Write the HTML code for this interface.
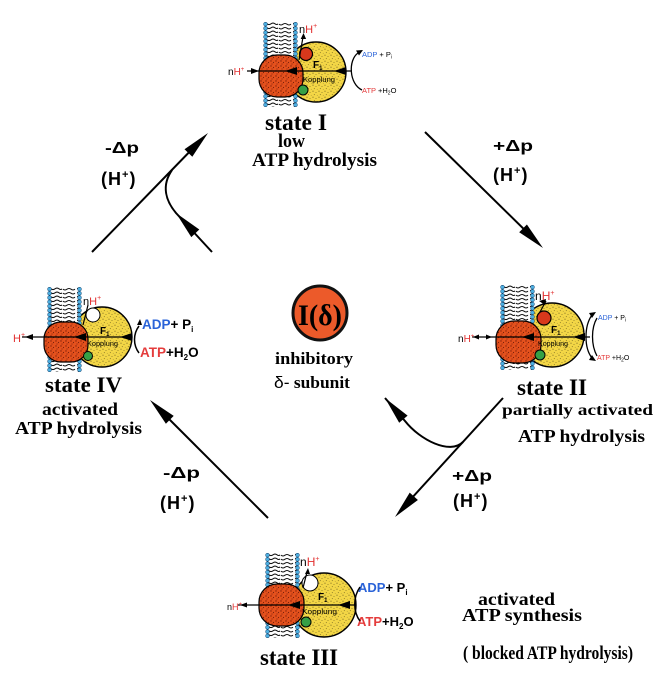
<!DOCTYPE html>
<html><head><meta charset="utf-8">
<style>
html,body{margin:0;padding:0;background:#fff;}
svg{display:block;}
.t{font-family:"Liberation Serif",serif;font-weight:bold;fill:#000;}
.s{font-family:"Liberation Sans",sans-serif;font-weight:bold;fill:#000;}
.n{font-family:"Liberation Sans",sans-serif;fill:#000;}
</style></head><body>
<svg width="657" height="681" viewBox="0 0 657 681" xmlns="http://www.w3.org/2000/svg">
<defs>
 <pattern id="tails" width="30" height="4" patternUnits="userSpaceOnUse">
  <rect width="30" height="4" fill="#fff"/>
  <path d="M0,1.8 q2,-1.5 4,0 t4,0 t4,0 t3,0 M16,2.2 q2,1.5 4,0 t4,0 t4,0" stroke="#111" stroke-width="1" fill="none"/>
 </pattern>
 <pattern id="heads" width="5" height="4.25" patternUnits="userSpaceOnUse">
  <circle cx="2.5" cy="2.1" r="1.9" fill="#4db0e2" stroke="#0b3a66" stroke-width="0.5"/>
 </pattern>
 <pattern id="spk" width="6" height="6" patternUnits="userSpaceOnUse">
  <circle cx="1" cy="1.2" r="0.55" fill="#000" opacity="0.55"/>
  <circle cx="4" cy="2.5" r="0.45" fill="#000" opacity="0.5"/>
  <circle cx="2.3" cy="4.6" r="0.5" fill="#000" opacity="0.5"/>
  <circle cx="5.2" cy="5.3" r="0.4" fill="#000" opacity="0.4"/>
 </pattern>
 <pattern id="spk2" width="5" height="5" patternUnits="userSpaceOnUse">
  <circle cx="1" cy="1" r="0.7" fill="#400" opacity="0.6"/>
  <circle cx="3.5" cy="2.5" r="0.6" fill="#300" opacity="0.6"/>
  <circle cx="2" cy="4" r="0.6" fill="#400" opacity="0.5"/>
 </pattern>
 <g id="mem">
  <rect x="3" y="0" width="29" height="85" fill="url(#tails)"/>
  <rect x="0" y="0" width="5" height="85" fill="url(#heads)"/>
  <rect x="30" y="0" width="5" height="85" fill="url(#heads)"/>
 </g>
</defs>

<!-- ===== Big arrows ===== -->
<g stroke="#000" stroke-width="2" fill="none">
 <path d="M92,252 L200,141"/>
 <path d="M212,252 L176,213 C166,201 161,186 172,170"/>
 <path d="M425,132 L537,242"/>
 <path d="M503,398 L400,511"/>
 <path d="M385,398 L405,421 C420,440 450,455 463,442"/>
 <path d="M268,518 L155,405"/>
</g>
<g fill="#000">
 <polygon points="208,133 192.3,156.8 184.5,149.2"/>
 <polygon points="176,213 199.3,229.5 191.3,237.1"/>
 <polygon points="543,248 519.2,232.3 526.9,224.5"/>
 <polygon points="395,517 417.9,500 409.7,492.6"/>
 <polygon points="385,398 407.6,415.6 399.2,422.8"/>
 <polygon points="150,400 173.7,415.9 165.9,423.7"/>
</g>

<!-- Δp labels -->
<text class="s" x="105" y="153" font-size="16" textLength="34" lengthAdjust="spacingAndGlyphs">-Δp</text>
<text class="s" x="101" y="185" font-size="18" letter-spacing="1">(H<tspan font-size="11" dy="-7">+</tspan><tspan dy="7">)</tspan></text>
<text class="s" x="493" y="151" font-size="16" textLength="40" lengthAdjust="spacingAndGlyphs">+Δp</text>
<text class="s" x="493" y="181" font-size="18" letter-spacing="1">(H<tspan font-size="11" dy="-7">+</tspan><tspan dy="7">)</tspan></text>
<text class="s" x="452" y="481" font-size="16" textLength="40" lengthAdjust="spacingAndGlyphs">+Δp</text>
<text class="s" x="453" y="507" font-size="18" letter-spacing="1">(H<tspan font-size="11" dy="-7">+</tspan><tspan dy="7">)</tspan></text>
<text class="s" x="163" y="478" font-size="16" textLength="37" lengthAdjust="spacingAndGlyphs">-Δp</text>
<text class="s" x="160" y="509" font-size="18" letter-spacing="1">(H<tspan font-size="11" dy="-7">+</tspan><tspan dy="7">)</tspan></text>

<!-- ===== Center ===== -->
<circle cx="320" cy="313" r="27" fill="#ec5a2a" stroke="#111" stroke-width="3"/>
<text class="t" x="320" y="325" font-size="30" text-anchor="middle" textLength="44" lengthAdjust="spacingAndGlyphs">I(δ)</text>
<text class="t" x="275" y="364" font-size="17" textLength="78" lengthAdjust="spacingAndGlyphs">inhibitory</text>
<text class="t" x="274" y="388" font-size="17" textLength="76" lengthAdjust="spacingAndGlyphs"><tspan font-family="Liberation Sans" font-weight="normal">δ-</tspan> subunit</text>

<!-- ===== State I ===== -->
<circle cx="316" cy="72" r="30" fill="#f3d646" stroke="#000" stroke-width="1.4"/>
<circle cx="316" cy="72" r="30" fill="url(#spk)"/>
<use href="#mem" x="263" y="22"/>
<rect x="259" y="55" width="44" height="42" rx="18" fill="#e4511d" stroke="#000" stroke-width="1.2"/>
<rect x="259" y="55" width="44" height="42" rx="18" fill="url(#spk2)"/>
<circle cx="306" cy="54" r="6.5" fill="#d8381c" stroke="#000" stroke-width="1.2"/>
<circle cx="303" cy="90" r="5" fill="#35a046" stroke="#000" stroke-width="1"/>
<path d="M247,71 H352" stroke="#000" stroke-width="1.3"/>
<path d="M285,71 l12,-4 v8z M334,71 l12,-4 v8z M259,71 l-8,-3 v6z"/>
<path d="M299,60 L303,37" stroke="#000" stroke-width="1.2"/><path d="M303.5,33 l-2.8,6 h5.4z"/>
<text class="n" x="313" y="68" font-size="10" font-weight="bold">F<tspan font-size="6" dy="2">1</tspan></text>
<text class="n" x="303" y="82" font-size="7" textLength="32" lengthAdjust="spacingAndGlyphs">Kopplung</text>
<text class="n" x="228" y="75" font-size="10">n<tspan fill="#e23030">H</tspan><tspan fill="#e23030" font-size="6" dy="-4">+</tspan></text>
<text class="n" x="299" y="33" font-size="11">n<tspan fill="#e23030">H</tspan><tspan fill="#e23030" font-size="7" dy="-5">+</tspan></text>
<text class="n" x="362" y="57" font-size="7.5"><tspan fill="#2a63d8">ADP</tspan> + P<tspan font-size="5" dy="1.5">i</tspan></text>
<text class="n" x="362" y="93" font-size="7.5"><tspan fill="#e43c3c">ATP</tspan> +H<tspan font-size="5" dy="1.5">2</tspan><tspan dy="-1.5">O</tspan></text>
<path d="M362,90 C349,84 348,60 358,53" stroke="#000" stroke-width="1.3" fill="none"/><path d="M363,50 l-7,0.5 l3,5z"/>
<text class="t" x="265" y="130" font-size="23" textLength="62" lengthAdjust="spacingAndGlyphs">state I</text>
<text class="t" x="278" y="147" font-size="19" textLength="27" lengthAdjust="spacingAndGlyphs">low</text>
<text class="t" x="252" y="166" font-size="19" textLength="125" lengthAdjust="spacingAndGlyphs">ATP hydrolysis</text>

<!-- ===== State II ===== -->
<circle cx="552" cy="335" r="32" fill="#f3d646" stroke="#000" stroke-width="1.4"/>
<circle cx="552" cy="335" r="32" fill="url(#spk)"/>
<use href="#mem" x="500" y="285"/>
<rect x="496" y="321" width="45" height="42" rx="18" fill="#e4511d" stroke="#000" stroke-width="1.2"/>
<rect x="496" y="321" width="45" height="42" rx="18" fill="url(#spk2)"/>
<circle cx="544" cy="318" r="7" fill="#d8381c" stroke="#000" stroke-width="1.2"/>
<circle cx="540" cy="355" r="5" fill="#35a046" stroke="#000" stroke-width="1"/>
<path d="M472,337 H590" stroke="#000" stroke-width="1.3"/>
<path d="M522,337 l12,-4 v8z M573,337 l12,-4 v8z M473,337 l6,-2.5 v5z M492,337 l-6,-2.5 v5z"/>
<path d="M540,312 L546,301" stroke="#000" stroke-width="1.2"/><path d="M539,301 l7,-2 l-1,6z"/>
<text class="n" x="551" y="333" font-size="10" font-weight="bold">F<tspan font-size="6" dy="2">1</tspan></text>
<text class="n" x="538" y="346" font-size="7" textLength="30" lengthAdjust="spacingAndGlyphs">Kopplung</text>
<text class="n" x="458" y="342" font-size="10">n<tspan fill="#e23030">H</tspan><tspan fill="#e23030" font-size="6" dy="-4">+</tspan></text>
<text class="n" x="535" y="300" font-size="12">n<tspan fill="#e23030">H</tspan><tspan fill="#e23030" font-size="7" dy="-5">+</tspan></text>
<text class="n" x="598" y="320" font-size="7"><tspan fill="#2a63d8">ADP</tspan> + P<tspan font-size="5" dy="1.5">i</tspan></text>
<text class="n" x="597" y="360" font-size="7"><tspan fill="#e43c3c">ATP</tspan> +H<tspan font-size="5" dy="1.5">2</tspan><tspan dy="-1.5">O</tspan></text>
<path d="M592,315 C584,326 584,348 592,358 M597,318 C591,328 591,345 597,356" stroke="#000" stroke-width="1.3" fill="none"/>
<path d="M596,312 l-7,1 l3,5z M596,361 l-7,-1 l3,-5z"/>
<text class="t" x="517" y="395" font-size="23" textLength="70" lengthAdjust="spacingAndGlyphs">state II</text>
<text class="t" x="502" y="415" font-size="16" textLength="151" lengthAdjust="spacingAndGlyphs">partially activated</text>
<text class="t" x="518" y="442" font-size="18" textLength="127" lengthAdjust="spacingAndGlyphs">ATP hydrolysis</text>

<!-- ===== State III ===== -->
<circle cx="324" cy="605" r="32" fill="#f3d646" stroke="#000" stroke-width="1.4"/>
<circle cx="324" cy="605" r="32" fill="url(#spk)"/>
<circle cx="310" cy="583" r="8" fill="#fff" stroke="#000" stroke-width="1"/>
<use href="#mem" x="265" y="553"/>
<rect x="259" y="584" width="45" height="42" rx="18" fill="#e4511d" stroke="#000" stroke-width="1.2"/>
<rect x="259" y="584" width="45" height="42" rx="18" fill="url(#spk2)"/>
<circle cx="306" cy="622" r="5" fill="#35a046" stroke="#000" stroke-width="1"/>
<path d="M238,605 H356" stroke="#000" stroke-width="1.3"/>
<path d="M288,605 l12,-4 v8z M338,605 l12,-4 v8z M240,605 l7,-2.5 v5z"/>
<path d="M303,588 L307,572" stroke="#000" stroke-width="1.2"/><path d="M308,568 l-3,6 h5z"/>
<text class="n" x="318" y="600" font-size="10" font-weight="bold">F<tspan font-size="6" dy="2">1</tspan></text>
<text class="n" x="302" y="614" font-size="7" textLength="35" lengthAdjust="spacingAndGlyphs">Kopplung</text>
<text class="n" x="227" y="610" font-size="9">n<tspan fill="#e23030">H</tspan><tspan fill="#e23030" font-size="6" dy="-4">+</tspan></text>
<text class="n" x="300" y="566" font-size="12">n<tspan fill="#e23030">H</tspan><tspan fill="#e23030" font-size="7" dy="-5">+</tspan></text>
<text class="s" x="358" y="592" font-size="13"><tspan fill="#2a63d8">ADP</tspan>+ P<tspan font-size="8" dy="3">i</tspan></text>
<text class="s" x="357" y="626" font-size="13"><tspan fill="#e43c3c">ATP</tspan>+H<tspan font-size="8" dy="3">2</tspan><tspan dy="-3">O</tspan></text>
<path d="M360,587 C353,597 353,612 360,621" stroke="#000" stroke-width="1.5" fill="none"/>
<text class="t" x="260" y="665" font-size="23" textLength="78" lengthAdjust="spacingAndGlyphs">state III</text>

<!-- ===== State IV ===== -->
<circle cx="102" cy="337" r="30" fill="#f3d646" stroke="#000" stroke-width="1.4"/>
<circle cx="102" cy="337" r="30" fill="url(#spk)"/>
<circle cx="93" cy="315" r="7" fill="#fff" stroke="#000" stroke-width="1"/>
<use href="#mem" x="47" y="287"/>
<rect x="44" y="322" width="44" height="40" rx="17" fill="#e4511d" stroke="#000" stroke-width="1.2"/>
<rect x="44" y="322" width="44" height="40" rx="17" fill="url(#spk2)"/>
<circle cx="88" cy="356" r="4.5" fill="#35a046" stroke="#000" stroke-width="1"/>
<path d="M22,337 H130" stroke="#000" stroke-width="1.3"/>
<path d="M74,337 l12,-4 v8z M120,337 l12,-4 v8z M25,337 l8,-3 v6z"/>
<path d="M83,325 L88,305" stroke="#000" stroke-width="1.2"/>
<text class="n" x="100" y="334" font-size="10" font-weight="bold">F<tspan font-size="6" dy="2">1</tspan></text>
<text class="n" x="87" y="346" font-size="7" textLength="31" lengthAdjust="spacingAndGlyphs">Kopplung</text>
<text class="n" x="13" y="342" font-size="11" style="fill:#e23030">H<tspan font-size="7" dy="-5">+</tspan></text>
<text class="n" x="83" y="305" font-size="11">n<tspan fill="#e23030">H</tspan><tspan fill="#e23030" font-size="7" dy="-5">+</tspan></text>
<text class="s" x="142" y="329" font-size="13.5"><tspan fill="#2a63d8">ADP</tspan>+ P<tspan font-size="8" dy="3">i</tspan></text>
<text class="s" x="140" y="357" font-size="13.5"><tspan fill="#e43c3c">ATP</tspan>+H<tspan font-size="8" dy="3">2</tspan><tspan dy="-3">O</tspan></text>
<path d="M139,326 C133,334 133,345 139,353" stroke="#000" stroke-width="1.5" fill="none"/><path d="M140,319 l-3,6 h5z"/>
<text class="t" x="45" y="392" font-size="22" textLength="77" lengthAdjust="spacingAndGlyphs">state IV</text>
<text class="t" x="42" y="415" font-size="18" textLength="76" lengthAdjust="spacingAndGlyphs">activated</text>
<text class="t" x="15" y="434" font-size="18" textLength="127" lengthAdjust="spacingAndGlyphs">ATP hydrolysis</text>

<!-- ===== Bottom right text ===== -->
<text class="t" x="478" y="605" font-size="18" textLength="77" lengthAdjust="spacingAndGlyphs">activated</text>
<text class="t" x="462" y="621" font-size="18" textLength="120" lengthAdjust="spacingAndGlyphs">ATP synthesis</text>
<text class="t" x="463" y="659" font-size="19" textLength="170" lengthAdjust="spacingAndGlyphs">( blocked ATP hydrolysis)</text>
</svg>
</body></html>
